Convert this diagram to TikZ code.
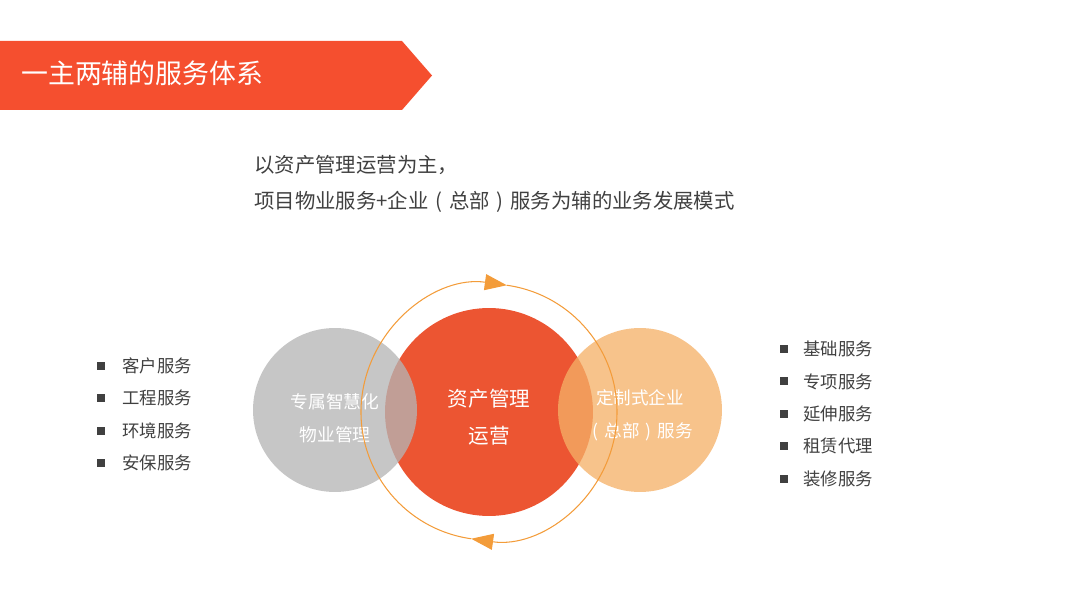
\documentclass[tikz,border=0pt]{standalone}
\usepackage{fontspec}
\newfontfamily\cjk{Noto Sans CJK SC}
\usepackage{tikz}
\usetikzlibrary{arrows.meta, positioning}
\usepackage{xcolor}
\definecolor{bannerred}{HTML}{F54F2F}
\definecolor{assetred}{HTML}{EC5532}
\definecolor{smartgray}{HTML}{B5B5B5}
\definecolor{customorange}{HTML}{F5B067}
\definecolor{ringorange}{HTML}{F39C3A}
\definecolor{textgray}{HTML}{404040}
% centred full-width brackets
\newcommand{\lbrk}{\hspace{0.33em}(\hspace{0.34em}}
\newcommand{\rbrk}{\hspace{0.34em})\hspace{0.33em}}

\begin{document}
\begin{tikzpicture}[
    x=0.02cm, y=0.02cm,
    disc/.style={circle, fill=#1, inner sep=0pt},
    disctext/.style={inner sep=0pt, text=white, align=center},
    item/.style={anchor=west, inner sep=0pt, text=textgray,
                 font=\cjk\fontsize{9.9pt}{12pt}\selectfont},
    bullet/.style={rectangle, fill=textgray, inner sep=0pt, minimum size=0.16cm},
    ring/.style={-{Triangle[length=0.44cm, width=0.32cm]}, line width=0.6pt, color=ringorange},
]
\path[use as bounding box] (0,0) rectangle (1080,-608);

% Header banner
\fill[bannerred] (0,-41) -- (402,-41) -- (432,-75.5) -- (402,-110) -- (0,-110) -- cycle;
\node[anchor=west, inner sep=0pt, text=white, font=\cjk\fontsize{15.3pt}{18pt}\selectfont]
      (title) at (21,-73) {一主两辅的服务体系};

% Lead text
\node[anchor=west, inner sep=0pt, text=textgray, font=\cjk\fontsize{11.6pt}{14pt}\selectfont]
      (lead) at (254,-165) {以资产管理运营为主，};
\node[anchor=west, inner sep=0pt, text=textgray, font=\cjk\fontsize{11.6pt}{14pt}\selectfont]
      (lead2) at (254,-202) {项目物业服务+企业\lbrk 总部\rbrk 服务为辅的业务发展模式};

% Circles
\node[disc=assetred, minimum size=4.16cm] (asset) at (489,-412) {};
\node[disc=smartgray, fill opacity=0.77, minimum size=3.28cm] (smart) at (335,-410) {};
\node[disc=customorange, fill opacity=0.76, minimum size=3.28cm] (custom) at (640,-410) {};

\node[disctext, font=\cjk\fontsize{11.7pt}{21pt}\selectfont]
      (assettext) at ([yshift=-0.1cm]asset.center) {资产管理\\运营};
\node[disctext, font=\cjk\fontsize{10.1pt}{18.7pt}\selectfont]
      (smarttext) at ([yshift=-0.17cm]smart.center) {专属智慧化\\物业管理};
\node[disctext, font=\cjk\fontsize{10pt}{19pt}\selectfont]
      (customtext) at ([yshift=-0.1cm]custom.center) {定制式企业\\\lbrk 总部\rbrk 服务};

% Cycle ring
\draw[ring] ([shift={(262:128)}]asset.center) arc[start angle=262, end angle=82, radius=128];
\draw[ring] ([shift={(82:128)}]asset.center) arc[start angle=82, end angle=-98, radius=128];

% Left list
\foreach \txt [count=\i] in {客户服务, 工程服务, 环境服务, 安保服务} {
    \node[item] (left\i) at (122,{-366-32.3*(\i-1)}) {\txt};
    \node[bullet, left=0.33cm of left\i] (leftb\i) {};
}

% Right list
\foreach \txt [count=\i] in {基础服务, 专项服务, 延伸服务, 租赁代理, 装修服务} {
    \node[item] (right\i) at (803,{-349-32.4*(\i-1)}) {\txt};
    \node[bullet, left=0.3cm of right\i] (rightb\i) {};
}

\end{tikzpicture}
\end{document}
